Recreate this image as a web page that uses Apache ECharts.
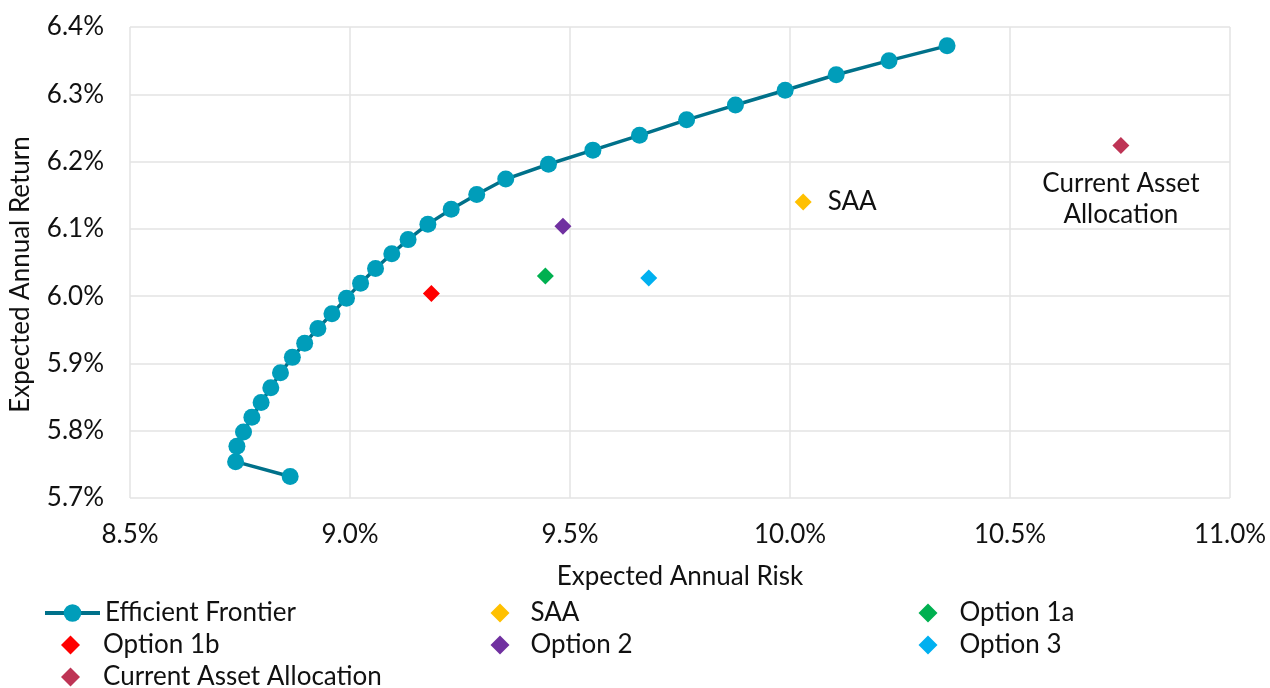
<!DOCTYPE html>
<html>
<head>
<meta charset="utf-8">
<script src="https://cdn.jsdelivr.net/npm/echarts@6/dist/echarts.min.js"></script>
<style>
html,body{margin:0;padding:0;background:#fff;}
#chart{width:1270px;height:688px;}
</style>
</head>
<body>
<div id="chart"></div>
<script>
// Efficient frontier: risk (%) and return (%)
var frontierRisk = [8.864, 8.740, 8.743, 8.758, 8.777, 8.798, 8.820, 8.842, 8.869, 8.897,
  8.927, 8.959, 8.992, 9.024, 9.058, 9.095, 9.132, 9.177, 9.230, 9.288,
  9.354, 9.451, 9.552, 9.658, 9.765, 9.876, 9.989, 10.105, 10.225, 10.357];
var frontierReturn = [5.732, 5.754, 5.777, 5.798, 5.820, 5.842, 5.864, 5.886, 5.909, 5.930,
  5.952, 5.974, 5.997, 6.019, 6.041, 6.063, 6.084, 6.107, 6.129, 6.151,
  6.174, 6.196, 6.217, 6.239, 6.262, 6.284, 6.306, 6.329, 6.350, 6.372];

// Portfolios
var portfolioNames = ['SAA', 'Option 1a', 'Option 1b', 'Option 2', 'Option 3', 'Current Asset Allocation'];
var portfolioRisk = [10.030, 9.444, 9.185, 9.484, 9.679, 10.752];
var portfolioReturn = [6.140, 6.030, 6.004, 6.104, 6.027, 6.224];
var portfolioColors = ['#FFC000', '#00B050', '#FF0000', '#7030A0', '#00B0F0', '#BE3455'];

var xTicks = {min: 8.5, max: 11.0, interval: 0.5};
var yTicks = {min: 5.7, max: 6.4, interval: 0.1};

var FONT = 'Lato, "Open Sans", sans-serif';
var FS = 26;
var TXT = '#111';
var chart = echarts.init(document.getElementById('chart'));

var frontierData = frontierRisk.map(function (r, i) { return [r, frontierReturn[i]]; });

var series = [{
  name: 'Efficient Frontier',
  type: 'line',
  data: frontierData,
  symbol: 'circle',
  symbolSize: 17,
  itemStyle: {color: '#009DBA', opacity: 1},
  lineStyle: {color: '#00718A', width: 3.5},
  z: 3,
  animation: false
}];

portfolioNames.forEach(function (n, i) {
  var s = {
    name: n,
    type: 'scatter',
    data: [[portfolioRisk[i], portfolioReturn[i]]],
    symbol: 'diamond',
    symbolSize: 17,
    itemStyle: {color: portfolioColors[i], opacity: 1},
    z: 4,
    animation: false
  };
  if (n === 'SAA') {
    s.label = {show: true, position: 'right', distance: 16, formatter: 'SAA',
      fontFamily: FONT, fontSize: FS, color: TXT};
  }
  if (n === 'Current Asset Allocation') {
    s.label = {show: true, position: 'bottom', distance: 14, formatter: 'Current Asset\nAllocation',
      fontFamily: FONT, fontSize: FS, lineHeight: 31, color: TXT, align: 'center'};
  }
  series.push(s);
});

// one legend block per entry, placed in a 3-column grid
function legendItem(name, left, rowCenter, iw, ih, padLeft, extra) {
  var l = {
    orient: 'horizontal',
    left: left,
    top: rowCenter - 16,
    padding: 0,
    itemWidth: iw,
    itemHeight: ih,
    data: [name],
    textStyle: {fontFamily: FONT, fontSize: FS, lineHeight: 32, color: TXT, padding: [0, 0, 0, padLeft]},
    selectedMode: false
  };
  if (extra) { for (var k in extra) l[k] = extra[k]; }
  return l;
}

chart.setOption({
  backgroundColor: '#fff',
  animation: false,
  grid: {left: 127, right: 40, top: 27, bottom: 190, containLabel: false},
  legend: [
    legendItem('Efficient Frontier', 43, 613, 55, 22, 0, {lineStyle: {width: 4}}),
    legendItem('Option 1b', 61, 645, 19, 19, 18),
    legendItem('Current Asset Allocation', 61, 677, 19, 19, 18),
    legendItem('SAA', 490.5, 613, 19, 19, 16),
    legendItem('Option 2', 490.5, 645, 19, 19, 16),
    legendItem('Option 1a', 918.5, 613, 19, 19, 17),
    legendItem('Option 3', 918.5, 645, 19, 19, 17)
  ],
  xAxis: {
    type: 'value',
    min: xTicks.min, max: xTicks.max, interval: xTicks.interval,
    name: 'Expected Annual Risk',
    nameLocation: 'middle',
    nameGap: 66,
    nameTextStyle: {fontFamily: FONT, fontSize: FS, color: TXT},
    axisLine: {show: false},
    axisTick: {show: false},
    axisLabel: {formatter: function (v) { return v.toFixed(1) + '%'; },
      fontFamily: FONT, fontSize: FS, color: TXT, margin: 24},
    splitLine: {show: true, lineStyle: {color: '#E3E3E3', width: 1.5}}
  },
  yAxis: {
    type: 'value',
    min: yTicks.min, max: yTicks.max, interval: yTicks.interval,
    name: 'Expected Annual Return',
    nameLocation: 'middle',
    nameGap: 96,
    nameTextStyle: {fontFamily: FONT, fontSize: FS, color: TXT, padding: [0, 24, 0, 0]},
    axisLine: {show: false},
    axisTick: {show: false},
    axisLabel: {formatter: function (v) { return v.toFixed(1) + '%'; },
      fontFamily: FONT, fontSize: FS, color: TXT, margin: 26},
    splitLine: {show: true, lineStyle: {color: '#E3E3E3', width: 1.5}}
  },
  series: series
});
</script>
</body>
</html>
